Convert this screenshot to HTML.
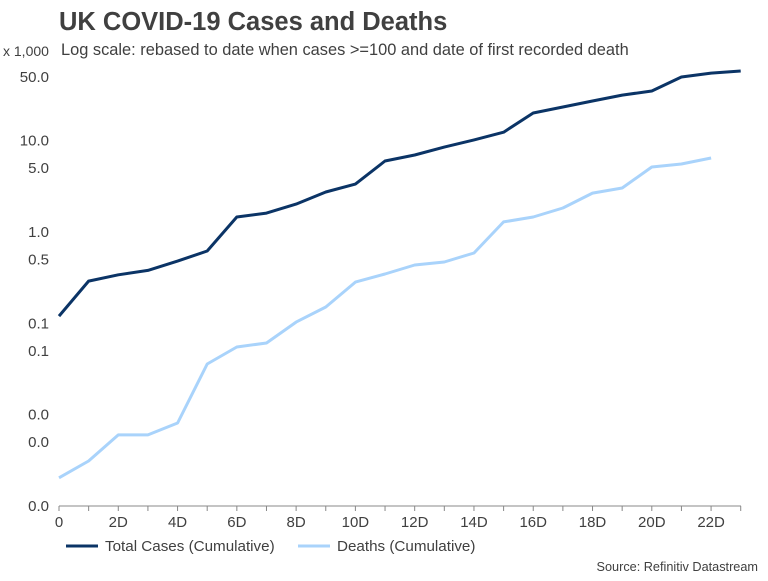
<!DOCTYPE html>
<html><head><meta charset="utf-8"><style>
body{margin:0;background:#fff;font-family:"Liberation Sans",Arial,sans-serif;}
svg text{font-family:"Liberation Sans",Arial,sans-serif;}
</style></head><body>
<svg id="chart" width="768" height="576" xmlns="http://www.w3.org/2000/svg">
<rect width="768" height="576" fill="#fff"/>
<text x="59" y="30" font-size="25.5" font-weight="bold" fill="#404040">UK COVID-19 Cases and Deaths</text>
<text x="3" y="56" font-size="14" fill="#404040">x 1,000</text>
<text x="61" y="55" font-size="16.4" fill="#404040">Log scale: rebased to date when cases &gt;=100 and date of first recorded death</text>
<g id="yaxis"></g><g id="xaxis"></g><g id="series"></g>
<line x1="66" y1="546" x2="98" y2="546" stroke="#0b3466" stroke-width="3"/>
<text x="105" y="551" font-size="15.2" fill="#404040">Total Cases (Cumulative)</text>
<line x1="298" y1="546" x2="330" y2="546" stroke="#a9d3fb" stroke-width="3"/>
<text x="337" y="551" font-size="15.2" fill="#404040">Deaths (Cumulative)</text>
<text x="758" y="571" font-size="12.7" fill="#404040" text-anchor="end">Source: Refinitiv Datastream</text>
</svg>
<script>
const days = [0,1,2,3,4,5,6,7,8,9,10,11,12,13,14,15,16,17,18,19,20,21,22,23];
const cases = [0.12,0.29,0.34,0.38,0.48,0.62,1.46,1.61,2.02,2.74,3.35,6.0,6.97,8.5,10.2,12.4,20.1,23.4,27.2,31.6,35,49.9,55,58];
const deaths = [0.00203,0.0031,0.006,0.006,0.0081,0.0358,0.055,0.0608,0.103,0.151,0.283,0.347,0.435,0.469,0.589,1.29,1.46,1.83,2.67,3.03,5.15,5.56,6.46];
const yTicks = [50,10,5,1,0.5,0.1,0.05,0.01,0.005,0.001];
const yTickLabels = ["50.0","10.0","5.0","1.0","0.5","0.1","0.1","0.0","0.0","0.0"];
const xTicks = [0,2,4,6,8,10,12,14,16,18,20,22];
const xTickLabels = ["0","2D","4D","6D","8D","10D","12D","14D","16D","18D","20D","22D"];
const NS="http://www.w3.org/2000/svg";
const xS = d => 59 + d*29.64;
const yS = v => 232 - 91.3*Math.log10(v);
function mk(tag, attrs, parent){const e=document.createElementNS(NS,tag);for(const k in attrs)e.setAttribute(k,attrs[k]);parent.appendChild(e);return e;}
const ya=document.getElementById('yaxis'), xa=document.getElementById('xaxis'), se=document.getElementById('series');
yTicks.forEach((v,i)=>{
  const t=mk('text',{x:49,y:yS(v)+5,'font-size':15,fill:'#404040','text-anchor':'end'},ya);
  t.textContent=yTickLabels[i];
  
  
});
const ax=mk('line',{x1:59,y1:506,x2:741,y2:506,stroke:'#888','stroke-width':1},xa);


days.forEach(d=>{
  const tk=mk('line',{x1:xS(d),y1:506,x2:xS(d),y2:511,stroke:'#888'},xa);
  
  
});
xTicks.forEach((d,i)=>{
  const t=mk('text',{x:xS(d),y:527,'font-size':15,fill:'#404040','text-anchor':'middle'},xa);
  t.textContent=xTickLabels[i];
  
  
});
function line(vals,color,name){
  const pts=vals.map((v,i)=>xS(days[i]).toFixed(1)+','+yS(v).toFixed(1)).join(' ');
  const p=mk('polyline',{points:pts,fill:'none',stroke:color,'stroke-width':3,'stroke-linejoin':'round'},se);
  
  
}
line(deaths,'#a9d3fb','deaths-line');
line(cases,'#0b3466','cases-line');
</script>
</body></html>
